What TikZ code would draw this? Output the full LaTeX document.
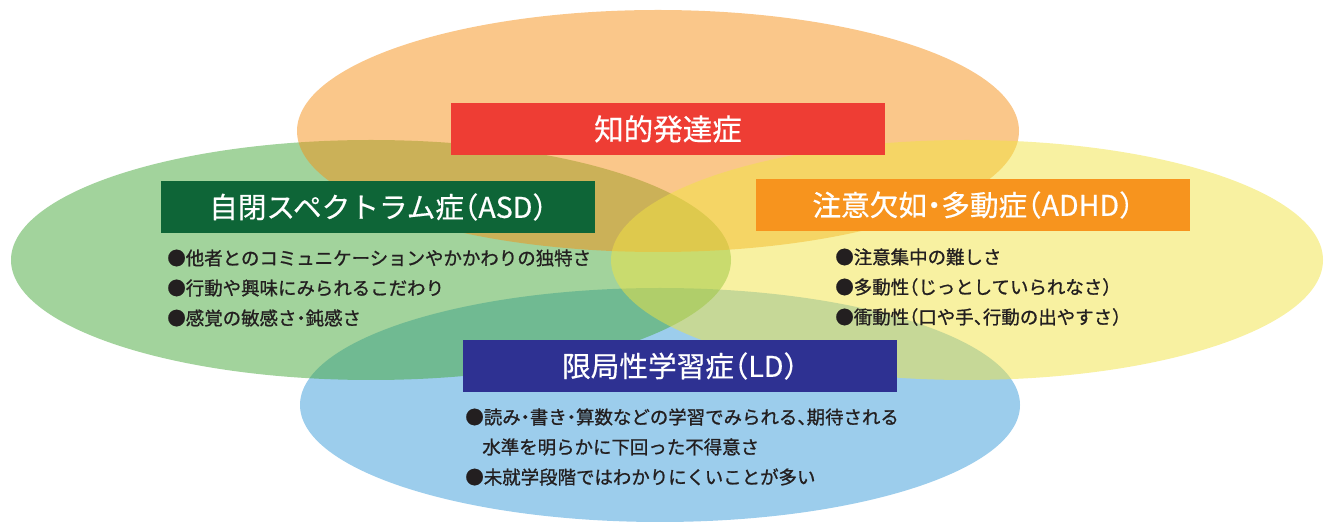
\documentclass[tikz,border=0pt]{standalone}
\usepackage{fontspec}
\setmainfont{Noto Sans CJK JP}[RawFeature=+halt]
\newfontfamily\itemfont{Noto Sans CJK JP}[RawFeature=+halt,FakeBold=1]
\newfontfamily\titlefont{Noto Sans CJK JP}[RawFeature=+halt,FakeBold=0.5]
\definecolor{orangeC}{HTML}{F58F15}
\definecolor{greenC}{HTML}{45A739}
\definecolor{yellowC}{HTML}{F1E343}
\definecolor{blueC}{HTML}{399BD9}
\definecolor{iddbox}{HTML}{EE3D34}
\definecolor{asdbox}{HTML}{0E6537}
\definecolor{adhdbox}{HTML}{F7941E}
\definecolor{ldbox}{HTML}{2E3192}
\definecolor{ink}{HTML}{231F20}
\begin{document}
\begin{tikzpicture}
  [x=0.02cm,y=-0.02cm,
   title/.style={minimum width=8.7cm,minimum height=1.04cm,inner sep=0pt,text=white,font=\titlefont\fontsize{16.3}{16.3}\selectfont},
   item/.style={anchor=west,inner sep=0pt,text=ink,font=\itemfont\fontsize{10.5}{12}\selectfont}]
\useasboundingbox (0,0) rectangle (1325,526);

 \foreach \c/\x/\y/\rx/\ry in {blueC/660/405/360/117,greenC/371/260/360/120,orangeC/658/131/361/121,yellowC/967/260/356/120}
    \fill[\c,fill opacity=.5] (\x,\y) ellipse [x radius=\rx, y radius=\ry];

\node (idd)[title,fill=iddbox,font=\titlefont\fontsize{16.8}{16.8}\selectfont] at (668,129) {知的発達症};
  \node (asd)[title,fill=asdbox] at (378,207) {自閉スペクトラム症（ASD）};
  \node (adhd)[title,fill=adhdbox] at (973,205) {注意欠如・多動症（ADHD）};
  \node (ld)[title,fill=ldbox] at (680,366) {限局性学習症（LD）};

 \foreach \txt [count=\i] in {●他者とのコミュニケーションやかかわりの独特さ,●行動や興味にみられるこだわり,●感覚の敏感さ・鈍感さ}
    \node (asd\i)[item] at (167,228+30*\i) {\txt};
 \foreach \txt [count=\i] in {●注意集中の難しさ,●多動性（じっとしていられなさ）,●衝動性（口や手、行動の出やすさ）}
    \node (adhd\i)[item] at (835,227+30*\i) {\txt};
  \node (ld1)[item] at (465,417) {●読み・書き・算数などの学習でみられる、期待される};
  \node (ld2)[item] at (482,447) {水準を明らかに下回った不得意さ};
  \node (ld3)[item] at (465,477) {●未就学段階ではわかりにくいことが多い};
\end{tikzpicture}
\end{document}
